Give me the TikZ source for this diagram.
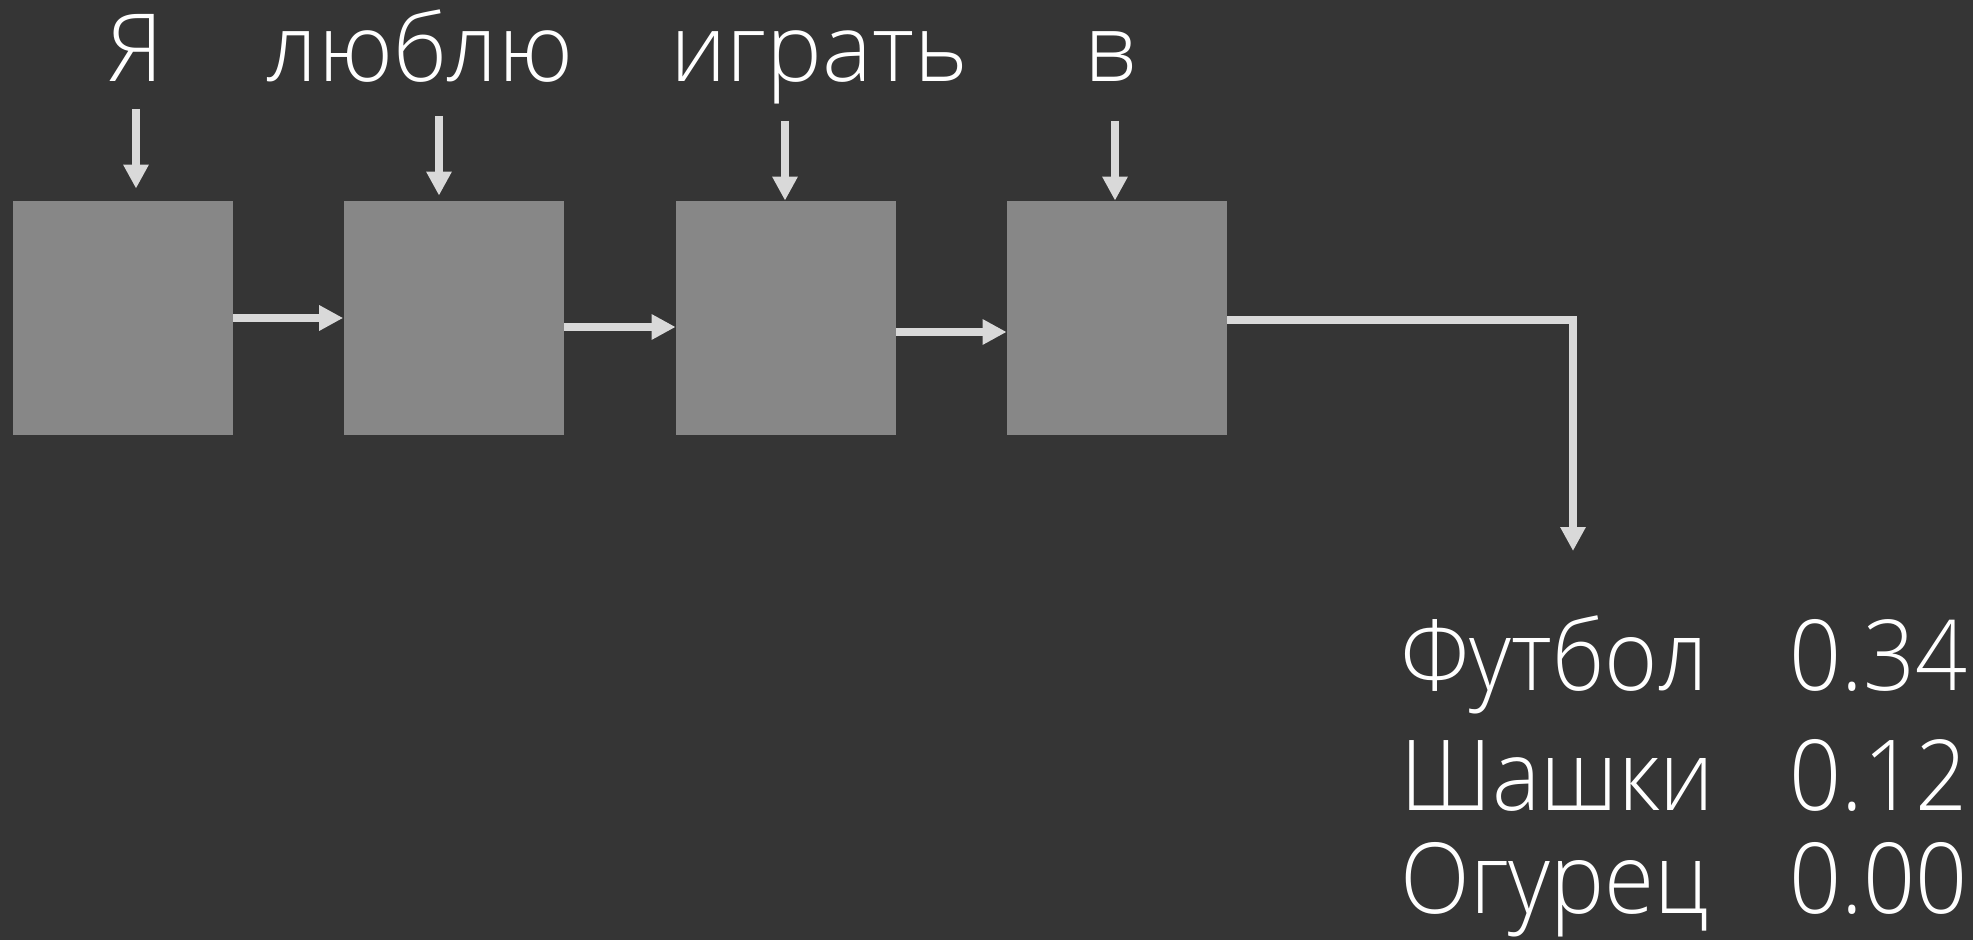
\documentclass[tikz,border=0pt]{standalone}
\usepackage{fontspec}
\setmainfont{Open Sans Light}
\newfontfamily\resfont{Open Sans Light}[FakeStretch=0.93]
\usetikzlibrary{arrows.meta}
\definecolor{bg}{HTML}{353535}
\definecolor{boxgray}{HTML}{878787}
\definecolor{arrowgray}{HTML}{D9D9D9}
\begin{document}
\begin{tikzpicture}[x=0.5pt,y=-0.5pt,
  cell/.style={fill=boxgray, minimum width=110pt, minimum height=117pt, inner sep=0pt},
  word/.style={text=white, inner sep=0pt, anchor=base, font=\fontsize{47}{56}\selectfont},
  res/.style={text=white, inner sep=0pt, anchor=base west, font=\resfont\fontsize{49}{58}\selectfont},
  flow/.style={draw=arrowgray, line width=3.8pt, -{Triangle[length=12pt,width=12pt]}}]
\fill[bg] (0,0) rectangle (1973,940);
\useasboundingbox (0,0) rectangle (1973,940);
% cells
\node[cell] (c1) at (122.7,318) {};
\node[cell] (c2) at (453.6,318) {};
\node[cell] (c3) at (786,318) {};
\node[cell] (c4) at (1117,318) {};
% input words
\node[word] (w1) at (136,82) {Я};
\node[word] (w2) at (420,82) {люблю};
\node[word] (w3) at (819,82) {играть};
\node[word] (w4) at (1111,82) {в};
\coordinate (i1) at (136,109);
\coordinate (i2) at (439,116);
\coordinate (i3) at (785,121);
\coordinate (i4) at (1115,121);
\path[flow, shorten >=6pt] (i1) -- (i1 |- c1.north);
\path[flow, shorten >=2.5pt] (i2) -- (i2 |- c2.north);
\path[flow] (i3) -- (i3 |- c3.north);
\path[flow] (i4) -- (i4 |- c4.north);
% hidden state
\path[flow] (c1.east) -- (c2.west);
\path[flow] ([yshift=-4.5pt]c2.east) -- ([yshift=-4.5pt]c3.west);
\path[flow] ([yshift=-7pt]c3.east) -- ([yshift=-7pt]c4.west);
\coordinate (out) at (1573,551);
\path[flow] ([yshift=-1pt]c4.east) -| (out);
% output
\node[res] (r1) at (1400,690) {Футбол};
\node[res] (r2) at (1400,810) {Шашки};
\node[res] (r3) at (1400,913) {Огурец};
\node[res] (p1) at (1789,690) {0.34};
\node[res] (p2) at (1789,810) {0.12};
\node[res] (p3) at (1789,913) {0.00};
\end{tikzpicture}
\end{document}
